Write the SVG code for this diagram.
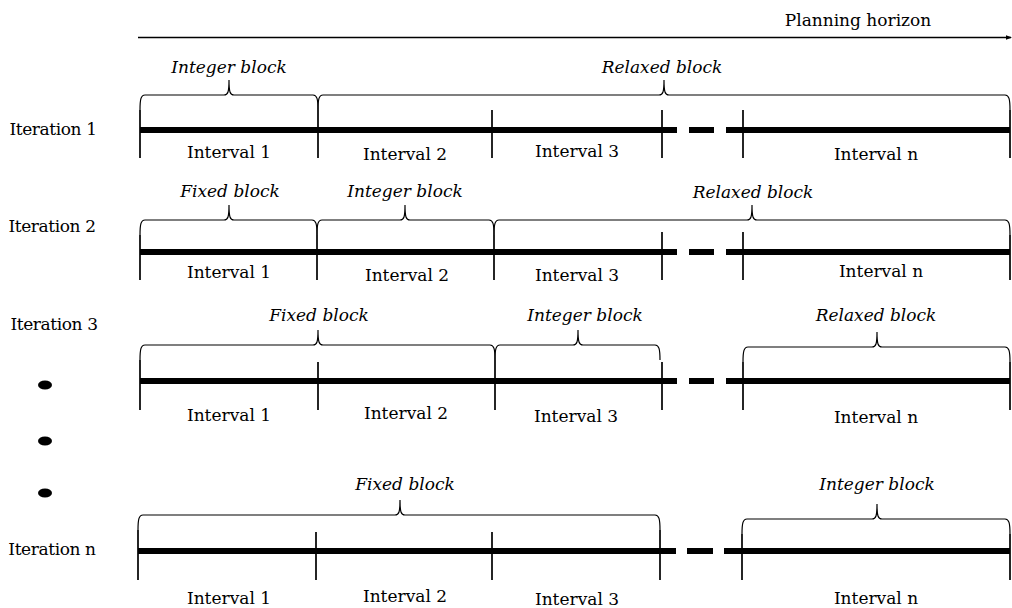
<svg xmlns="http://www.w3.org/2000/svg" width="1012" height="608" viewBox="0 0 1012 608">
<style>
text{font-family:'DejaVu Serif',serif;font-size:17px;fill:#000}
.it{font-style:italic}
.lbl{text-anchor:middle}
.iter{letter-spacing:-0.4px}
.bar{stroke:#000;stroke-width:6;fill:none}
.tick{stroke:#000;stroke-width:1.7;fill:none}
.brace{stroke:#000;stroke-width:1.2;fill:none}
.axis{stroke:#000;stroke-width:1.6;fill:none}
</style>
<defs>
<marker id="ah" markerWidth="6" markerHeight="6" refX="5" refY="3" orient="auto" markerUnits="userSpaceOnUse">
<path d="M0,0.8 L6,3 L0,5.2 Z" fill="#000"/>
</marker>
</defs>
<rect width="1012" height="608" fill="#fff"/>

<g id="connectors">
<line class="axis" x1="138" y1="37.5" x2="1011" y2="37.5" marker-end="url(#ah)"/>
</g>
<g id="horizon-label">
<text x="858" y="26" class="lbl">Planning horizon</text>
</g>

<g id="iteration1">
<text x="53" y="135" class="lbl iter">Iteration 1</text>
<path class="bar" d="M140,130 H677 M689,130 H714 M726,130 H1010"/>
<path class="tick" d="M140,110 V158 M318,110 V158 M492,110 V158 M662,110 V158 M743,110 V158 M1010,110 V158"/>
<path class="brace" d="M140,110 C140,99 141,95 145,95 L224,95 C228,95 229,92 229,80 C229,92 230,95 234,95 L313,95 C317,95 318,99 318,110"/>
<path class="brace" d="M318,110 C318,99 319,95 323,95 L659,95 C663,95 664,92 664,80 C664,92 665,95 669,95 L1005,95 C1009,95 1010,99 1010,110"/>
<text x="229" y="73" class="lbl it">Integer block</text>
<text x="662" y="73" class="lbl it">Relaxed block</text>
<text x="229" y="158" class="lbl">Interval 1</text>
<text x="405" y="160" class="lbl">Interval 2</text>
<text x="577" y="157" class="lbl">Interval 3</text>
<text x="876" y="160" class="lbl">Interval n</text>
</g>

<g id="iteration2">
<text x="52" y="232" class="lbl iter">Iteration 2</text>
<path class="bar" d="M140,252 H677 M689,252 H714 M726,252 H1010"/>
<path class="tick" d="M140,235 V280 M317,235 V280 M494,235 V280 M662,232 V280 M743,232 V280 M1010,235 V280"/>
<path class="brace" d="M140,235 C140,224 141,220 145,220 L224,220 C228,220 229,217 229,205 C229,217 230,220 234,220 L312,220 C316,220 317,224 317,235"/>
<path class="brace" d="M317,235 C317,224 318,220 322,220 L400,220 C404,220 405,217 405,205 C405,217 406,220 410,220 L489,220 C493,220 494,224 494,235"/>
<path class="brace" d="M494,235 C494,224 495,220 499,220 L747,220 C751,220 752,217 752,205 C752,217 753,220 757,220 L1005,220 C1009,220 1010,224 1010,235"/>
<text x="230" y="197" class="lbl it">Fixed block</text>
<text x="405" y="197" class="lbl it">Integer block</text>
<text x="753" y="198" class="lbl it">Relaxed block</text>
<text x="229" y="278" class="lbl">Interval 1</text>
<text x="407" y="281" class="lbl">Interval 2</text>
<text x="577" y="281" class="lbl">Interval 3</text>
<text x="881" y="277" class="lbl">Interval n</text>
</g>

<g id="iteration3">
<text x="54" y="330" class="lbl iter">Iteration 3</text>
<path class="bar" d="M140,381 H677 M689,381 H714 M726,381 H1010"/>
<path class="tick" d="M140,360 V410 M318,362 V410 M495,360 V410 M662,362 V410 M743,362 V410 M1010,362 V410"/>
<path class="brace" d="M140,360 C140,349 141,345 145,345 L313,345 C317,345 318,342 318,330 C318,342 319,345 323,345 L490,345 C494,345 495,349 495,360"/>
<path class="brace" d="M495,360 C495,349 496,345 500,345 L573,345 C577,345 578,342 578,330 C578,342 579,345 583,345 L655,345 C659,345 660,349 660,360"/>
<path class="brace" d="M743,362 C743,351 744,347 748,347 L872,347 C876,347 877,344 877,332 C877,344 878,347 882,347 L1005,347 C1009,347 1010,351 1010,362"/>
<text x="319" y="321" class="lbl it">Fixed block</text>
<text x="585" y="321" class="lbl it">Integer block</text>
<text x="876" y="321" class="lbl it">Relaxed block</text>
<text x="229" y="421" class="lbl">Interval 1</text>
<text x="406" y="419" class="lbl">Interval 2</text>
<text x="576" y="422" class="lbl">Interval 3</text>
<text x="876" y="423" class="lbl">Interval n</text>
</g>

<g id="ellipsis-dots">
<ellipse cx="45" cy="385" rx="7" ry="4.6"/>
<ellipse cx="45" cy="441" rx="7" ry="4.6"/>
<ellipse cx="45" cy="493" rx="7" ry="4.6"/>
</g>

<g id="iterationN">
<text x="52" y="555" class="lbl iter">Iteration n</text>
<path class="bar" d="M138,551 H676 M687,551 H713 M724,551 H1010"/>
<path class="tick" d="M138,530 V580 M316,532 V580 M492,532 V580 M660,530 V580 M742,534 V580 M1010,534 V580"/>
<path class="brace" d="M138,530 C138,519 139,515 143,515 L395,515 C399,515 400,512 400,500 C400,512 401,515 405,515 L655,515 C659,515 660,519 660,530"/>
<path class="brace" d="M742,534 C742,523 743,519 747,519 L872,519 C876,519 877,516 877,504 C877,516 878,519 882,519 L1005,519 C1009,519 1010,523 1010,534"/>
<text x="405" y="490" class="lbl it">Fixed block</text>
<text x="877" y="490" class="lbl it">Integer block</text>
<text x="229" y="604" class="lbl">Interval 1</text>
<text x="405" y="602" class="lbl">Interval 2</text>
<text x="577" y="605" class="lbl">Interval 3</text>
<text x="876" y="604" class="lbl">Interval n</text>
</g>
</svg>
